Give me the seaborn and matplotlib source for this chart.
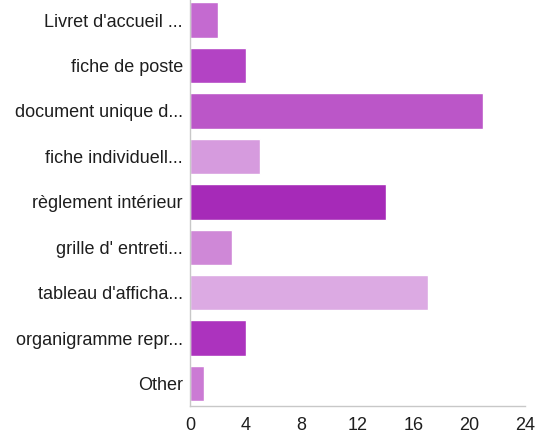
import matplotlib
matplotlib.use("Agg")
import matplotlib.pyplot as plt
import seaborn as sns
import pandas as pd

categories = [
    "Livret d'accueil ...",
    "fiche de poste",
    "document unique d...",
    "fiche individuell...",
    "règlement intérieur",
    "grille d' entreti...",
    "tableau d'afficha...",
    "organigramme repr...",
    "Other",
]
counts = [2, 4, 21, 5, 14, 3, 17, 4, 1]
bar_colors = [
    "#c46ad0",
    "#b343c4",
    "#bb56c8",
    "#d69bde",
    "#a62ab8",
    "#cf88d7",
    "#dcaae3",
    "#ac33be",
    "#cb7ad4",
]
x_ticks = [0, 4, 8, 12, 16, 20, 24]

df = pd.DataFrame({"category": categories, "count": counts})

sns.set_theme(style="white")
plt.rcParams["font.family"] = ["Liberation Sans", "DejaVu Sans"]

fig = plt.figure(figsize=(5.35, 4.34), dpi=100)
ax = fig.add_axes([0.355, 0.064, 0.627, 0.942])

sns.barplot(
    data=df, x="count", y="category", hue="category",
    palette=bar_colors, order=categories, hue_order=categories,
    width=0.78, saturation=1, legend=False, ax=ax,
)

ax.set_xlim(0, 24)
ax.set_xticks(x_ticks)
ax.set_xlabel("")
ax.set_ylabel("")
for side in ("top", "right"):
    ax.spines[side].set_visible(False)
for side in ("left", "bottom"):
    ax.spines[side].set_color("#c8c8c8")
    ax.spines[side].set_linewidth(1)
ax.tick_params(axis="both", which="both", length=4, width=1, color="#c8c8c8",
               labelsize=13, labelcolor="#1e1e1e", pad=1)
ax.tick_params(axis="x", pad=3.5)

fig.savefig("out.png", dpi=100)
